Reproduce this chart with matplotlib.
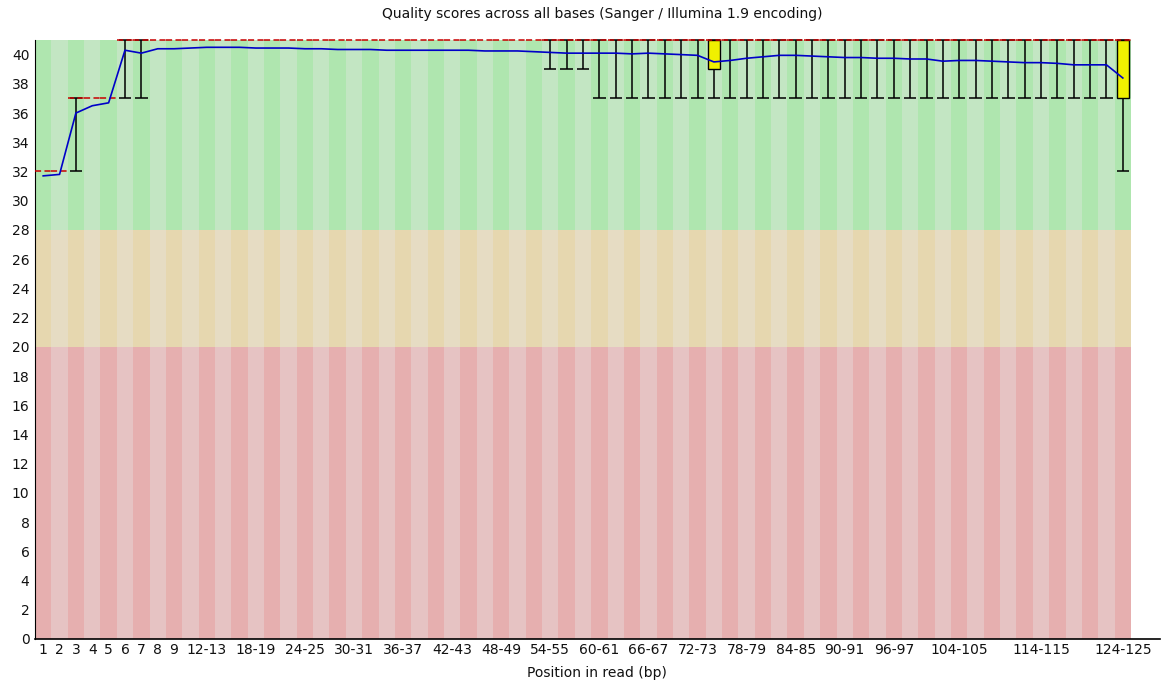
import numpy as np
import matplotlib.pyplot as plt

# position groups (FastQC linear grouping for 125 bp reads)
groups = [str(b) for b in range(1, 10)] + [f"{b}-{b + 1}" for b in range(10, 126, 2)]
shown_labels = ["1", "2", "3", "4", "5", "6", "7", "8", "9", "12-13", "18-19",
                "24-25", "30-31", "36-37", "42-43", "48-49", "54-55", "60-61",
                "66-67", "72-73", "78-79", "84-85", "90-91", "96-97",
                "104-105", "114-115", "124-125"]

mean_q = [31.7, 31.8, 36.0, 36.5, 36.7, 40.3, 40.1, 40.4, 40.4, 40.45,
          40.5, 40.5, 40.5, 40.45, 40.45, 40.45, 40.4, 40.4, 40.35, 40.35,
          40.35, 40.3, 40.3, 40.3, 40.3, 40.3, 40.3, 40.25, 40.25, 40.25,
          40.2, 40.15, 40.1, 40.1, 40.1, 40.1, 40.05, 40.1, 40.05, 40.0,
          39.95, 39.5, 39.6, 39.75, 39.85, 39.95, 39.95, 39.9, 39.85, 39.8,
          39.8, 39.75, 39.75, 39.7, 39.7, 39.55, 39.6, 39.6, 39.55, 39.5,
          39.45, 39.45, 39.4, 39.3, 39.3, 39.3, 38.4]
median_q = [32, 32] + [37] * 3 + [41] * 62
lower_q = [32, 32] + [37] * 3 + [41] * 36 + [39] + [41] * 24 + [37]
upper_q = [32, 32] + [37] * 3 + [41] * 62
p10 = [32, 32, 32, 37, 37, 37, 37] + [41] * 24 + [39] * 3 + [37] * 32 + [32]
p90 = [32, 32] + [37] * 3 + [41] * 62

zones = [(28, 41, (195, 230, 195), (175, 230, 175)),
         (20, 28, (230, 220, 195), (230, 215, 175)),
         (0, 20, (230, 195, 195), (230, 175, 175))]

def rgb(c):
    return tuple(v / 255 for v in c)

n = len(groups)
x = np.arange(n)
fig = plt.figure(figsize=(11.63, 6.82), dpi=100)
W, H = 1163, 682
left, right, top, bottom = 35, 1131, 40, 639
ax = fig.add_axes([left / W, 1 - bottom / H, (right - left) / W, (bottom - top) / H])

for lo, hi, light, dark in zones:
    cols = [rgb(dark) if i % 2 == 0 else rgb(light) for i in x]
    ax.bar(x, hi - lo, bottom=lo, width=1.0, color=cols, linewidth=0, zorder=0)

p10a, p90a = np.array(p10), np.array(p90)
lq, uq = np.array(lower_q), np.array(upper_q)
w = p90a > p10a
ax.vlines(x[w], p10a[w], p90a[w], color="black", lw=1.1, zorder=2, clip_on=False)
ax.hlines(p10a[w], x[w] - 0.38, x[w] + 0.38, color="black", lw=1.1, zorder=2)
ax.hlines(p90a[w], x[w] - 0.38, x[w] + 0.38, color="black", lw=1.1, zorder=2, clip_on=False)

b = uq > lq
ax.bar(x[b], (uq - lq)[b], bottom=lq[b], width=0.72, color=rgb((240, 240, 0)),
       edgecolor="black", linewidth=1.0, zorder=3, clip_on=False)

ax.hlines(median_q, x - 0.5, x + 0.5, color=rgb((200, 0, 0)), lw=1.1,
          linestyles=(0, (4, 2.2)), zorder=4, clip_on=False)
ax.plot(x, mean_q, color=rgb((0, 0, 200)), lw=1.2, zorder=5)

ax.set_xlim(-0.5, n - 0.5)
ax.set_ylim(0, 41)
ax.set_yticks(range(0, 41, 2))
ax.set_xticks([groups.index(s) for s in shown_labels])
ax.set_xticklabels(shown_labels)
ax.tick_params(length=0, labelsize=10, colors="#111111")
ax.tick_params(axis="y", pad=4)
ax.tick_params(axis="x", pad=3)
for s in ["top", "right", "bottom"]:
    ax.spines[s].set_visible(False)
ax.spines["left"].set_color("black")
ax.plot([0, (1160 - left) / (right - left)], [0, 0], transform=ax.transAxes,
        color="black", lw=1.2, clip_on=False, zorder=6)

fig.text(602 / W, 1 - 14 / H, "Quality scores across all bases (Sanger / Illumina 1.9 encoding)",
         ha="center", va="center", fontsize=10, color="#111111")
fig.text(597 / W, 1 - 673 / H, "Position in read (bp)", ha="center", va="center",
         fontsize=10, color="#111111")

fig.savefig("out.png", dpi=100)
